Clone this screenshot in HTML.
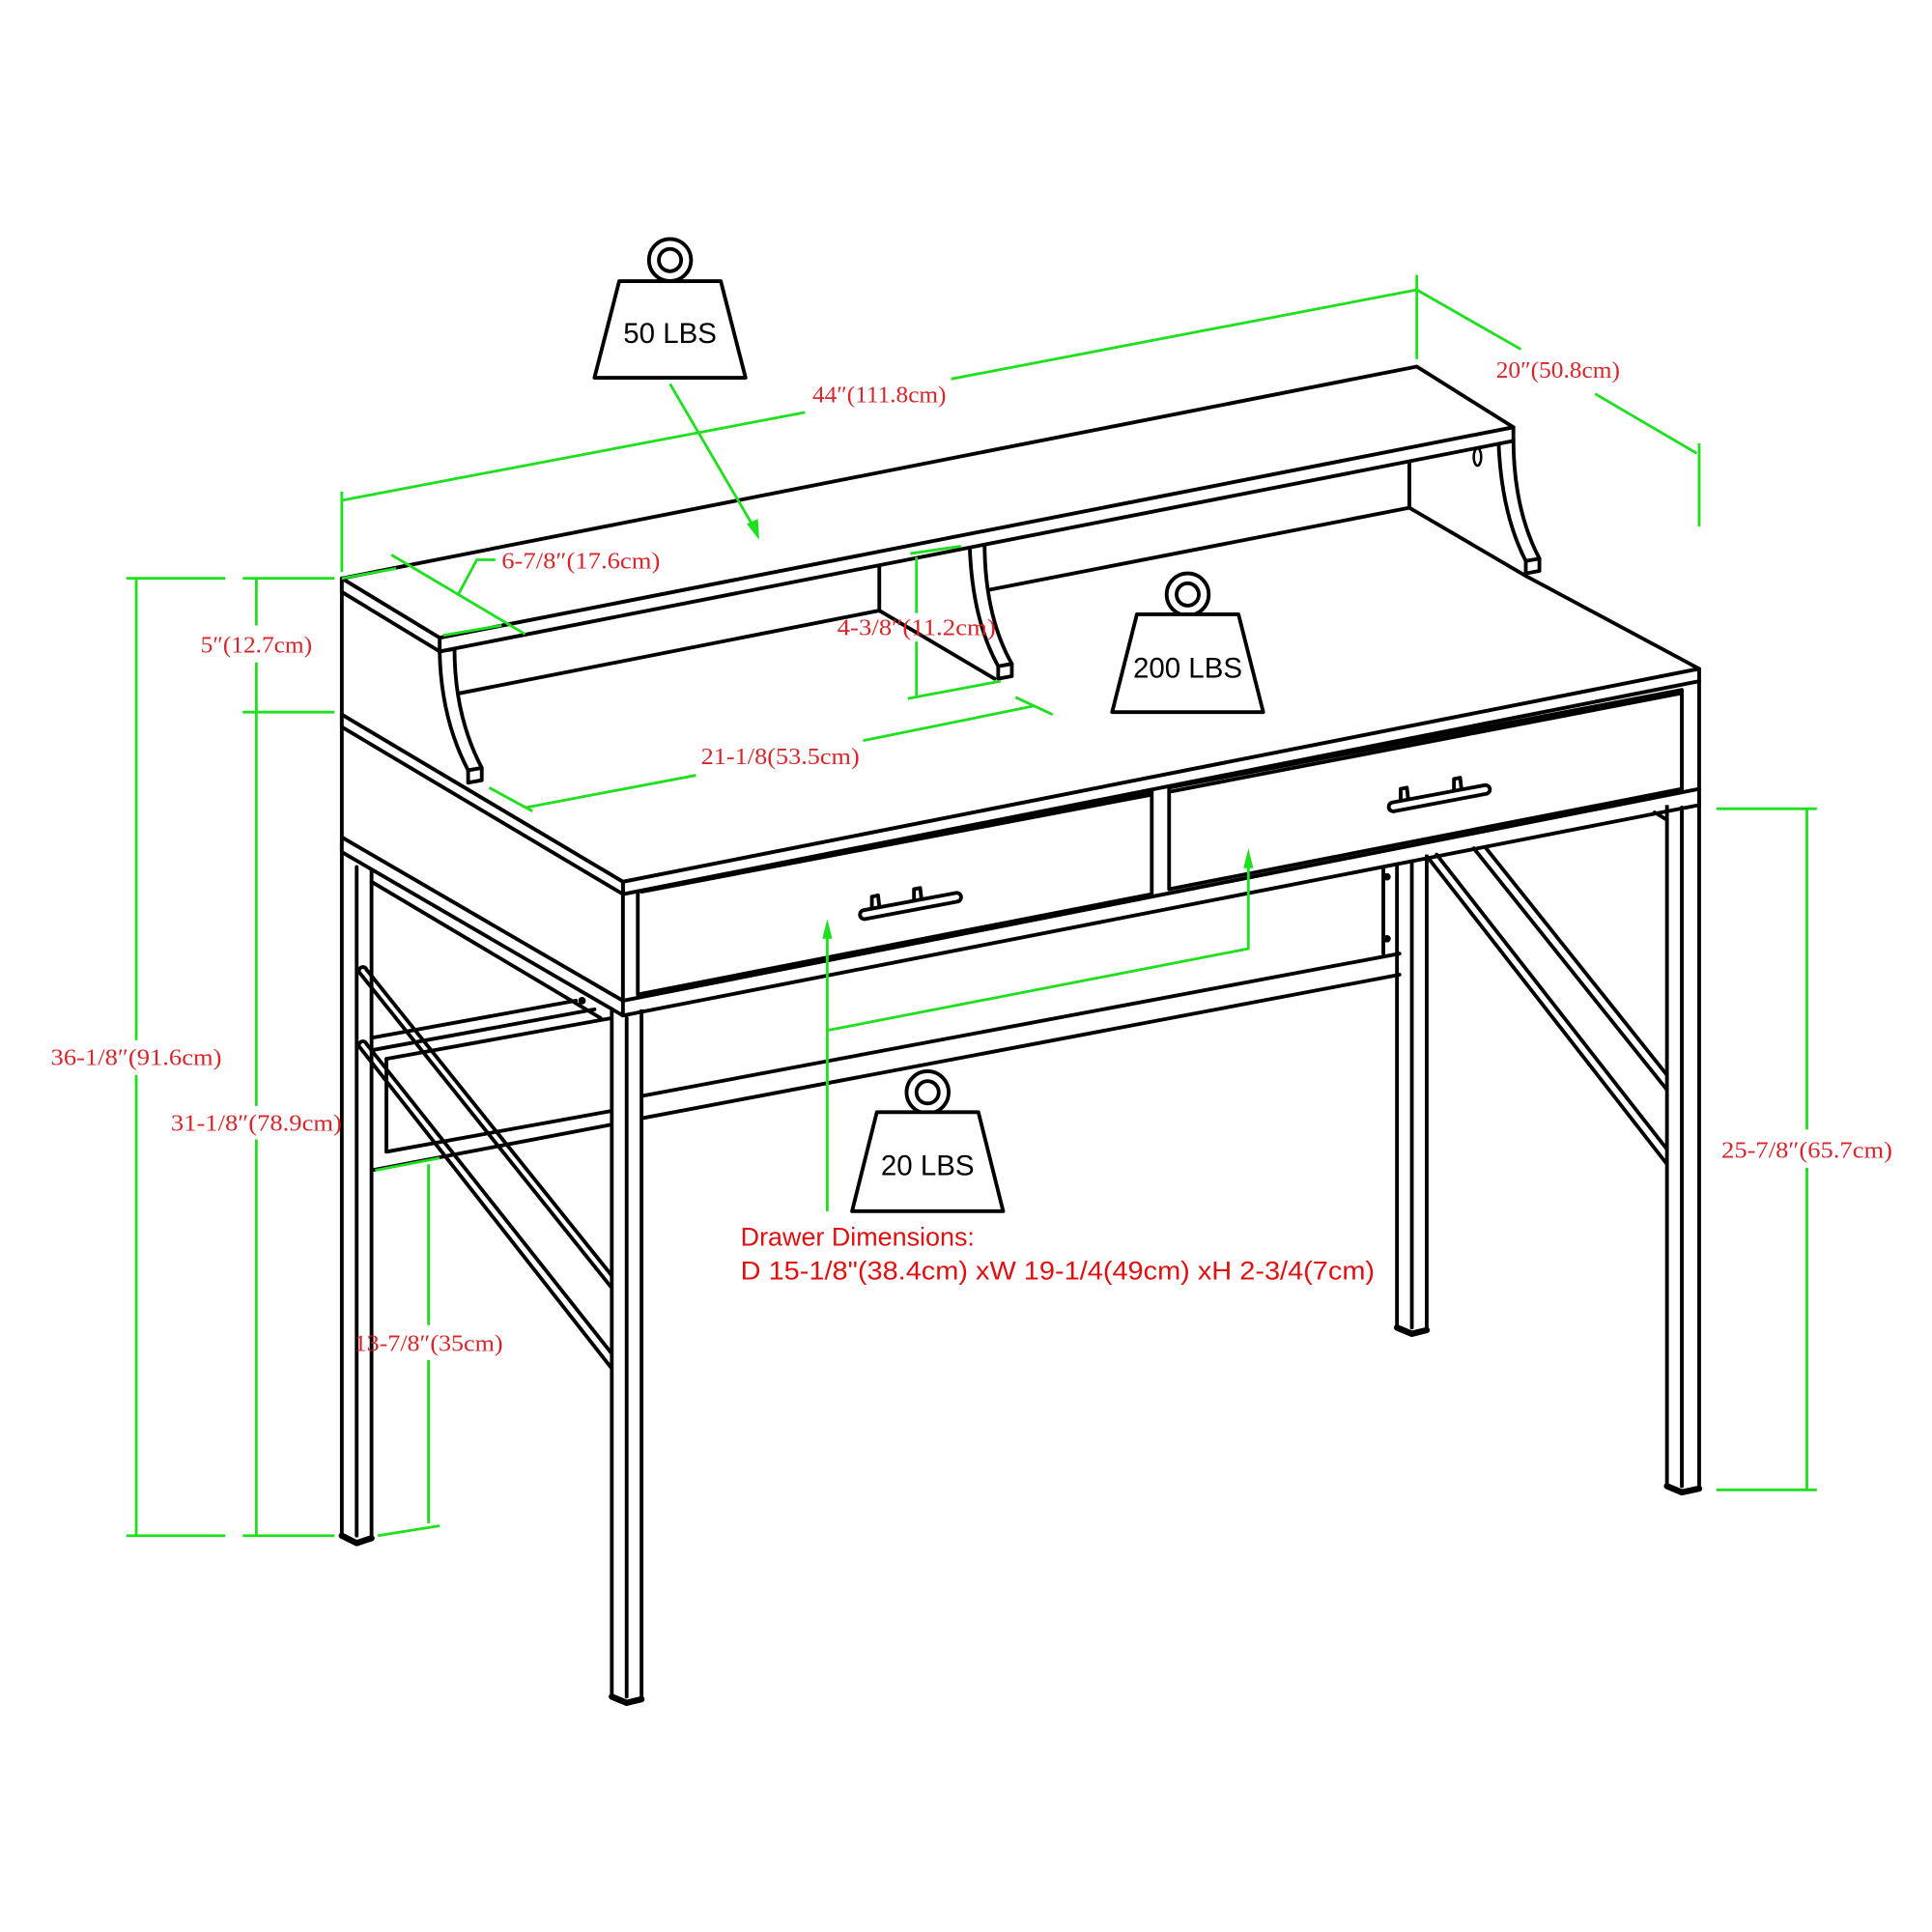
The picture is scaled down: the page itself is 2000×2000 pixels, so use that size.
<!DOCTYPE html>
<html><head><meta charset="utf-8"><style>
html,body{margin:0;padding:0;background:#fff;}
svg{display:block;}
.k{stroke:#000;stroke-width:3;fill:none;stroke-linejoin:round;stroke-linecap:round;}
.kf{stroke:#000;stroke-width:3;fill:#fff;stroke-linejoin:round;}
.g{stroke:#1ee01e;stroke-width:2.2;fill:none;}
.r{fill:#d8262a;font-family:"Liberation Serif",serif;font-size:19px;}
.w{font-family:"Liberation Sans",sans-serif;font-size:23px;fill:#000;text-anchor:middle;}
.d{font-family:"Liberation Sans",sans-serif;font-size:21px;fill:#e01010;}
</style></head><body>
<svg width="2000" height="2000" viewBox="0 0 1560 1560" xmlns="http://www.w3.org/2000/svg">
<rect width="1560" height="1560" fill="#fff"/>

<path class="kf" d="M276,680 L276,1240 L288,1246 L300,1243 L300,700"/>
<path class="k" d="M276,1240 L288,1246 L300,1242" style="stroke-width:5"/>
<path class="kf" d="M1128,697 L1128,1072 L1140,1077 L1152,1074 L1152,690"/>
<path class="k" d="M1128,1072 L1140,1077 L1152,1074" style="stroke-width:5"/>
<path class="k" d="M1190,685 L1346,880 M1200,685 L1346,868"/>
<path class="k" d="M1155,695 L1346,940 M1160,690 L1346,928"/>
<path class="k" d="M300,838 L465,808 M300,848 L480,815"/>
<path class="k" d="M312,855 L312,930 L494,897 M300,945 L494,908"/>
<path class="k" d="M312,855 L494,822"/>
<path class="k" d="M300,712 L485,822"/>
<path class="k" d="M518,885 L1130,770 M518,903 L1130,787"/>
<path class="k" d="M1117,700 L1117,770"/>
<circle cx="1120" cy="708" r="3"/><circle cx="1120" cy="758" r="3"/>
<circle cx="470" cy="808" r="3"/>
<path class="k" d="M290,785 L494,1040 M296,783 L494,1030"/>
<path class="k" d="M290,845 L494,1105 M296,843 L494,1093"/>
<path class="k" d="M290,785 A3,3 0 0 1 296,783 M290,845 A3,3 0 0 1 296,843"/>
<path class="kf" d="M494,815 L494,1370 L506,1375 L518,1372 L518,815"/>
<path class="k" d="M494,1370 L506,1375 L518,1372" style="stroke-width:5"/>
<path class="kf" d="M1346,650 L1346,1200 L1358,1205 L1372,1202 L1372,645"/>
<path class="k" d="M1346,1200 L1358,1205 L1372,1202" style="stroke-width:5"/>
<path class="k" d="M1358,652 L1358,1200"/>
<path class="k" d="M506,822 L506,1370"/>
<path class="k" d="M288,700 L288,1240"/>
<path class="k" d="M1140,697 L1140,1072"/>
<path class="k" d="M276,676 L503,808 L503,820 L276,688 Z" style="fill:#fff"/>
<path class="k" d="M503,808 L1372,637 L1372,650 L503,820"/>
<path class="k" d="M1336,656 L1346,662"/>
<path class="kf" d="M276,577 L503,712 L503,808 L276,676 Z"/>
<path class="kf" d="M503,722 L1372,550 L1372,637 L503,808 Z"/>
<path class="k" d="M515,717 L930,639 L930,722 L515,803 Z"/>
<path class="k" d="M518,720 L928,642"/>
<path class="k" d="M944,636 L1358,557 L1358,637 L944,718 Z"/>
<path class="k" d="M946,639 L1356,560"/>
<path class="k" d="M697,735 L772,721 M699,742 L773,728 M697,735 A3,3 0 0 0 699,742 M772,721 A3,3 0 0 1 773,728"/>
<path class="k" d="M704,733 L704,724 L709,723 L710,732 M738,727 L738,718 L743,717 L744,726"/>
<path class="k" d="M1124,648 L1199,634 M1126,655 L1200,641 M1124,648 A3,3 0 0 0 1126,655 M1199,634 A3,3 0 0 1 1200,641"/>
<path class="k" d="M1131,646 L1131,637 L1136,636 L1137,645 M1174,638 L1174,629 L1179,628 L1180,637"/>
<!-- desk top -->
<path d="M276,577 L1232,465 L1372,540 L503,712 Z" fill="#fff"/>
<path class="k" d="M276,577 L503,712 L1372,540 L1232,465"/>
<path class="kf" d="M503,712 L1372,540 L1372,550 L503,722 Z"/>
<path class="kf" d="M276,577 L503,712 L503,722 L276,587 Z"/>
<!-- hutch back -->
<path class="k" d="M276,467 L276,577"/>
<path d="M355,526 L1222,356 L1222,455 L1232,465 L1138,410 L795,477 L370,560 L355,560 Z" fill="#fff"/>
<path class="k" d="M370,560 L710,493 M795,477 L1138,410 L1232,465"/>
<path class="k" d="M1138,372 L1138,410"/>
<path class="k" d="M710,458 L710,493 L803,548"/>
<path class="kf" d="M355,526 Q356,580 378,622 L378,632 L389,630 L389,620 Q367,578 367,524 Z"/>
<path class="k" d="M378,622 L389,620"/>
<path class="kf" d="M783,441 Q785,500 806,538 L806,548 L817,546 L817,536 Q795,497 795,438 Z"/>
<path class="k" d="M806,538 L817,536"/>
<path class="kf" d="M1210,356 Q1212,414 1232,453 L1232,463 L1243,461 L1243,451 Q1222,411 1222,354 Z"/>
<path class="k" d="M1232,453 L1243,451"/>
<ellipse cx="1193" cy="369" rx="3" ry="7" class="k" style="stroke-width:2"/>
<path class="kf" d="M276,467 L1144,296 L1222,345 L355,515 Z"/>
<path class="kf" d="M355,515 L1222,345 L1222,356 L355,526 Z"/>
<path class="kf" d="M276,467 L355,515 L355,526 L276,478 Z"/>

<g class="g">
<path d="M276,404 L650,333 M768,306 L1144,234"/>
<path d="M276,397 L276,462 M1144,222 L1144,290"/>
<path d="M1144,234 L1228,282 M1288,318 L1370,366 M1372,358 L1372,425"/>
<path d="M316,448 L424,512 M370,480 L385,452 L400,452"/>
<path d="M276,467 L320,459 M358,513 L405,505"/>
<path d="M102,467 L182,467 M196,467 L270,467 M196,575 L270,575"/>
<path d="M207,467 L207,505 M207,535 L207,575"/>
<path d="M110,467 L110,840 M110,868 L110,1240 M102,1240 L182,1240"/>
<path d="M207,575 L207,893 M207,920 L207,1240 M196,1240 L270,1240"/>
<path d="M346,940 L346,1070 M346,1098 L346,1230 M303,945 L355,935 M305,1240 L355,1232"/>
<path d="M1459,653 L1459,912 M1459,943 L1459,1203 M1386,653 L1467,653 M1386,1203 L1467,1203"/>
<path d="M740,450 L740,495 M740,518 L740,562 M735,447 L776,441 M733,564 L808,550"/>
<path d="M395,636 L430,655 M425,652 L562,626 M697,598 L835,570 M820,563 L850,577"/>
<path d="M541,310 L610,428"/>
<path d="M668,978 L668,752 M668,832 L1008,766 L1008,695"/>
</g>
<g fill="#1ee01e">
<path d="M613,436 L603,423 L612,419 Z"/>
<path d="M668,742 L664,758 L672,758 Z"/>
<path d="M1008,685 L1004,701 L1012,701 Z"/>
</g>

<g>
<circle cx="541" cy="210" r="17" class="kf"/><circle cx="541" cy="210" r="9" class="k"/>
<path class="kf" d="M500,227 L582,227 L602,305 L480,305 Z"/>
<text x="541" y="277" class="w">50 LBS</text>
<circle cx="959" cy="480" r="17" class="kf"/><circle cx="959" cy="480" r="9" class="k"/>
<path class="kf" d="M918,496 L1000,496 L1020,575 L898,575 Z"/>
<text x="959" y="547" class="w">200 LBS</text>
<circle cx="749" cy="882" r="17" class="kf"/><circle cx="749" cy="882" r="9" class="k"/>
<path class="kf" d="M708,898 L790,898 L810,978 L688,978 Z"/>
<text x="749" y="949" class="w">20 LBS</text>
</g>

<g class="r">
<text x="710" y="325" text-anchor="middle" textLength="108" lengthAdjust="spacingAndGlyphs">44″(111.8cm)</text>
<text x="1258" y="305" text-anchor="middle" textLength="100" lengthAdjust="spacingAndGlyphs">20″(50.8cm)</text>
<text x="405" y="459" textLength="128" lengthAdjust="spacingAndGlyphs">6-7/8″(17.6cm)</text>
<text x="207" y="527" text-anchor="middle" textLength="90" lengthAdjust="spacingAndGlyphs">5″(12.7cm)</text>
<text x="740" y="513" text-anchor="middle" textLength="128" lengthAdjust="spacingAndGlyphs">4-3/8″(11.2cm)</text>
<text x="630" y="617" text-anchor="middle" textLength="128" lengthAdjust="spacingAndGlyphs">21-1/8(53.5cm)</text>
<text x="110" y="860" text-anchor="middle" textLength="138" lengthAdjust="spacingAndGlyphs">36-1/8″(91.6cm)</text>
<text x="207" y="913" text-anchor="middle" textLength="138" lengthAdjust="spacingAndGlyphs">31-1/8″(78.9cm)</text>
<text x="346" y="1091" text-anchor="middle" textLength="120" lengthAdjust="spacingAndGlyphs">13-7/8″(35cm)</text>
<text x="1459" y="935" text-anchor="middle" textLength="138" lengthAdjust="spacingAndGlyphs">25-7/8″(65.7cm)</text>
</g>
<text x="598" y="1006" class="d">Drawer Dimensions:</text>
<text x="598" y="1033" class="d" textLength="512" lengthAdjust="spacingAndGlyphs">D 15-1/8"(38.4cm) xW 19-1/4(49cm) xH 2-3/4(7cm)</text>
</svg>
</body></html>
